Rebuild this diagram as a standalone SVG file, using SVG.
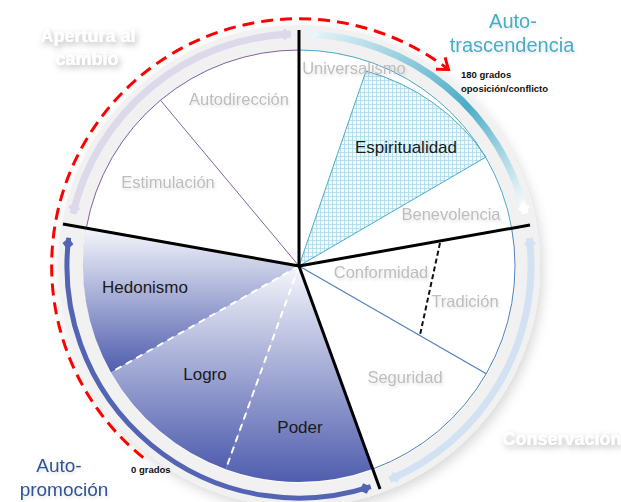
<svg xmlns="http://www.w3.org/2000/svg" width="621" height="502" viewBox="0 0 621 502">
<defs>
<style>
text{font-family:"Liberation Sans",Arial,sans-serif}
.seg{font-size:16.5px;fill:#bdbdbd;text-anchor:middle;filter:url(#soft)}
.dark{font-size:17px;fill:#1a1a1a;text-anchor:middle}
.title{font-size:18px;font-weight:bold;fill:#ffffff;text-anchor:middle;filter:url(#glow)}
.note{font-size:9.5px;font-weight:bold;fill:#111}
.blk{stroke:#000;stroke-width:3;fill:none}
</style>
<filter id="glow" x="-30%" y="-60%" width="160%" height="240%"><feDropShadow dx="2" dy="3" stdDeviation="3" flood-color="#000" flood-opacity="0.3"/></filter>
<filter id="soft" x="-20%" y="-40%" width="140%" height="180%"><feDropShadow dx="1" dy="2" stdDeviation="1.5" flood-color="#000" flood-opacity="0.12"/></filter>
<filter id="ringsh" x="-20%" y="-20%" width="140%" height="140%"><feDropShadow dx="3" dy="5" stdDeviation="6" flood-color="#000" flood-opacity="0.15"/></filter>
<linearGradient id="blueg" x1="0" y1="0" x2="0" y2="1"><stop offset="0" stop-color="#f5f6fb"/><stop offset="1" stop-color="#4f5dae"/></linearGradient>
<linearGradient id="cyang" gradientUnits="userSpaceOnUse" x1="307" y1="34" x2="525" y2="214"><stop offset="0" stop-color="#eaf5f9"/><stop offset="0.6" stop-color="#4bacc6"/><stop offset="1" stop-color="#ffffff"/></linearGradient>
<pattern id="hatch" width="4" height="4" patternUnits="userSpaceOnUse"><rect width="4" height="4" fill="#f1f9fc"/><path d="M0,0.5H4M0.5,0V4" stroke="#a9d9ea" stroke-width="0.8"/></pattern>
<marker id="mPur" markerUnits="userSpaceOnUse" overflow="visible" orient="auto-start-reverse"><path d="M0,0 L-6,-6 L-12,0 L-6,6 Z" fill="#ddd8ea"/></marker>
<marker id="mCyS" markerUnits="userSpaceOnUse" overflow="visible" orient="auto-start-reverse"><path d="M0,0 L-6,-6 L-12,0 L-6,6 Z" fill="#eaf5f9"/></marker>
<marker id="mCyE" markerUnits="userSpaceOnUse" overflow="visible" orient="auto"><path d="M0,0 L-6,-6 L-12,0 L-6,6 Z" fill="#ffffff"/></marker>
<marker id="mLb" markerUnits="userSpaceOnUse" overflow="visible" orient="auto-start-reverse"><path d="M0,0 L-6,-6 L-12,0 L-6,6 Z" fill="#d3e2f3"/></marker>
<marker id="mDb" markerUnits="userSpaceOnUse" overflow="visible" orient="auto-start-reverse"><path d="M0,0 L-6,-5.5 L-12,0 L-6,5.5 Z" fill="#5464b5"/></marker>
<marker id="mRed" markerUnits="userSpaceOnUse" overflow="visible" orient="auto"><path d="M-10,-7.5 L0,0 L-10,7.5" fill="none" stroke="#ff0000" stroke-width="3"/></marker>
</defs>
<rect width="621" height="502" fill="#ffffff"/>
<g id="ring">
<circle cx="299" cy="266" r="229" fill="none" stroke="#f1f1f1" stroke-width="24" filter="url(#ringsh)"/>
<circle cx="299" cy="266" r="216" fill="#ffffff"/>
</g>
<g id="hedonismo">
<path d="M299,266 L86.3,228.2 A216,216 0 0 0 111,372.4 Z" fill="url(#blueg)"/>
<text class="dark" x="145" y="293">Hedonismo</text>
</g>
<g id="logro">
<path d="M299,266 L111,372.4 A216,216 0 0 0 225.8,469.2 Z" fill="url(#blueg)"/>
<text class="dark" x="205" y="380">Logro</text>
</g>
<g id="poder">
<path d="M299,266 L225.8,469.2 A216,216 0 0 0 372.7,469 Z" fill="url(#blueg)"/>
<text class="dark" x="300" y="433">Poder</text>
</g>
<g id="espiritualidad">
<path d="M299,266 L366,71 A212,212 0 0 1 486,157 Z" fill="url(#hatch)" stroke="#4bacc6" stroke-width="1"/>
<text class="dark" x="406" y="153">Espiritualidad</text>
</g>
<g id="outlines">
<path d="M299,50 A216,216 0 0 0 86.3,228.2" fill="none" stroke="#8064a2" stroke-width="1"/>
<path d="M299,50 A216,216 0 0 1 511.7,228.2" fill="none" stroke="#4bacc6" stroke-width="1"/>
<path d="M511.7,228.2 A216,216 0 0 1 372.7,469" fill="none" stroke="#4f81bd" stroke-width="1"/>
<line x1="299" y1="266" x2="160.5" y2="100.3" stroke="#8064a2" stroke-width="1"/>
<line x1="299" y1="266" x2="486.3" y2="373.7" stroke="#4f81bd" stroke-width="1.2"/>
<line x1="299" y1="266" x2="111" y2="372.4" stroke="#ffffff" stroke-width="2" stroke-dasharray="7 5"/>
<line x1="299" y1="266" x2="225.8" y2="469.2" stroke="#ffffff" stroke-width="2" stroke-dasharray="7 5"/>
<line x1="440" y1="243" x2="420" y2="335" stroke="#111" stroke-width="2" stroke-dasharray="5 3"/>
<line class="blk" x1="299" y1="266" x2="299" y2="30"/>
<line class="blk" x1="299" y1="266" x2="63" y2="224"/>
<line class="blk" x1="299" y1="266" x2="530" y2="225"/>
<line class="blk" x1="299" y1="266" x2="380" y2="489"/>
</g>
<g id="universalismo"><text class="seg" x="354" y="74">Universalismo</text></g>
<g id="autodireccion"><text class="seg" x="239" y="105">Autodirección</text></g>
<g id="estimulacion"><text class="seg" x="168" y="188">Estimulación</text></g>
<g id="benevolencia"><text class="seg" x="451" y="220">Benevolencia</text></g>
<g id="conformidad"><text class="seg" x="381" y="278">Conformidad</text></g>
<g id="tradicion"><text class="seg" x="465" y="307">Tradición</text></g>
<g id="seguridad"><text class="seg" x="405" y="383">Seguridad</text></g>
<g id="connectors">
<path d="M290.9,34.1 A232,232 0 0 0 72.9,213.8" fill="none" stroke="#ddd8ea" stroke-width="7" marker-start="url(#mPur)" marker-end="url(#mPur)"/>
<path d="M307.1,34.1 A232,232 0 0 1 525.1,213.8" fill="none" stroke="url(#cyang)" stroke-width="7" marker-start="url(#mCyS)" marker-end="url(#mCyE)"/>
<path d="M529.3,237.7 A232,232 0 0 1 389.6,479.6" fill="none" stroke="#d3e2f3" stroke-width="7" marker-start="url(#mLb)" marker-end="url(#mLb)"/>
<path d="M68.7,237.7 A232,232 0 0 0 370.7,486.7" fill="none" stroke="#5464b5" stroke-width="5" marker-start="url(#mDb)" marker-end="url(#mDb)"/>
<path d="M143.2,457.7 A247,247 0 0 1 448.5,69.4" fill="none" stroke="#ff0000" stroke-width="3" stroke-dasharray="12 7" marker-end="url(#mRed)"/>
</g>
<g id="apertura">
<text class="title" x="88" y="42">Apertura al</text>
<text class="title" x="87" y="65">cambio</text>
</g>
<g id="autotrascendencia" style="filter:url(#soft)">
<text x="513" y="28" font-size="20" fill="#4bacc6" text-anchor="middle">Auto-</text>
<text x="512" y="52" font-size="20" fill="#4bacc6" text-anchor="middle">trascendencia</text>
</g>
<g id="conservacion"><text class="title" x="562" y="445" font-size="17">Conservación</text></g>
<g id="autopromocion" style="filter:url(#soft)">
<text x="59" y="472" font-size="19" fill="#2e5596" text-anchor="middle">Auto-</text>
<text x="64" y="496" font-size="19" fill="#2e5596" text-anchor="middle">promoción</text>
</g>
<g id="notes">
<text class="note" x="461" y="78">180 grados</text>
<text class="note" x="461" y="92">oposición/conflicto</text>
<text class="note" x="131" y="473">0 grados</text>
</g>
</svg>
